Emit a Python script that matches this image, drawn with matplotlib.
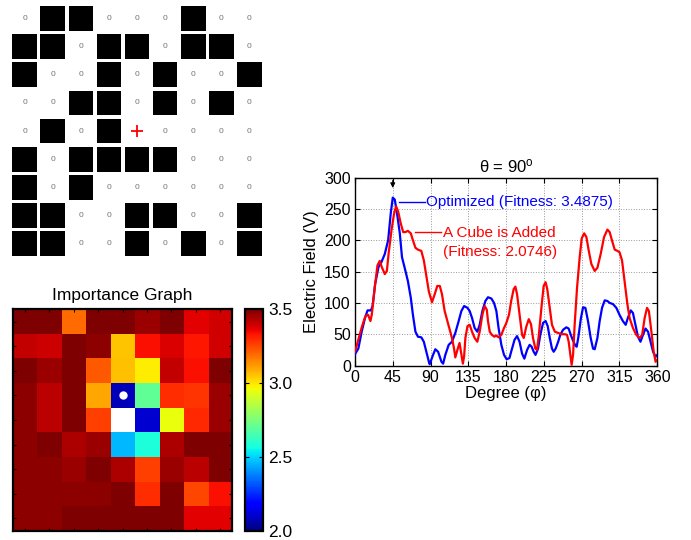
import numpy as np
import matplotlib
matplotlib.use("Agg")
import matplotlib.pyplot as plt
from matplotlib.patches import Rectangle

plt.rcParams['font.family'] = ['Liberation Sans', 'DejaVu Sans']
plt.rcParams['mathtext.fontset'] = 'custom'
plt.rcParams['mathtext.rm'] = 'Liberation Sans'
plt.rcParams['mathtext.it'] = 'Liberation Sans:italic'

# ---------------- data ----------------
# top-left structure grid (1 = cube, 0 = empty); center cell marked with a red "+"
grid_rows = [
    [0, 1, 1, 0, 0, 0, 1, 0, 0],
    [1, 1, 0, 1, 1, 0, 1, 1, 0],
    [1, 0, 0, 1, 0, 1, 0, 0, 1],
    [0, 0, 1, 1, 0, 1, 0, 1, 0],
    [0, 1, 0, 1, 0, 0, 0, 0, 0],
    [1, 0, 1, 1, 1, 1, 0, 0, 0],
    [1, 0, 1, 0, 0, 0, 0, 0, 0],
    [1, 1, 0, 0, 1, 1, 0, 0, 1],
    [1, 1, 0, 0, 1, 0, 1, 0, 1],
]
center_cell = (4, 4)

# importance graph (NaN = white cell)
importance = [
    [3.50, 3.50, 3.19, 3.50, 3.50, 3.46, 3.50, 3.37, 3.39],
    [3.41, 3.40, 3.50, 3.48, 3.05, 3.34, 3.38, 3.33, 3.39],
    [3.50, 3.46, 3.50, 3.22, 3.06, 2.99, 3.41, 3.34, 3.50],
    [3.48, 3.42, 3.50, 3.10, 2.08, 2.70, 3.29, 3.28, 3.46],
    [3.48, 3.42, 3.50, 3.26, np.nan, 2.11, 2.95, 3.30, 3.46],
    [3.48, 3.50, 3.44, 3.46, 2.46, 2.58, 3.44, 3.50, 3.50],
    [3.48, 3.48, 3.46, 3.50, 3.44, 3.26, 3.46, 3.42, 3.50],
    [3.48, 3.48, 3.48, 3.48, 3.50, 3.29, 3.50, 3.25, 3.34],
    [3.48, 3.48, 3.50, 3.50, 3.50, 3.50, 3.50, 3.37, 3.37],
]
dot_cell = (3, 4)
cbar_ticks = [2.0, 2.5, 3.0, 3.5]

# electric field pattern, theta = 90 deg
deg_blue = [0, 4, 8, 12, 15, 19, 21, 24, 28, 31.5,
            35.5, 39.5, 42.6, 45, 47.4, 50.6, 53.4, 56, 59, 63,
            66.5, 69, 72, 75, 79, 82, 85, 88, 89, 93,
            95.7, 99, 103, 105, 107.6, 111.6, 115.5, 119.5, 123.5, 126.7,
            130, 134, 136.6, 139.4, 142.5, 145.7, 148.5, 151.7, 155.3, 158.4,
            162.4, 165.6, 168.4, 171, 174.3, 177.5, 180.6, 184, 186, 190,
            193, 196, 199, 201.7, 205, 208, 210.4, 212.8, 215, 218,
            220.7, 224, 227, 229.5, 232, 234.6, 236.6, 239, 242, 244.5,
            247.8, 251.7, 254.5, 257, 259, 262, 264, 266, 269, 271.6,
            274.4, 277.5, 280.7, 283.5, 285.5, 288.7, 291.4, 294.2, 297.4, 300.6,
            303.3, 307.3, 311.3, 315, 319, 322.4, 325, 328.4, 331, 334,
            337, 340, 343, 346, 349, 352, 355, 358, 360]
val_blue = [18, 27, 54, 76, 88, 88, 95, 130, 157, 165,
            178, 200, 243, 268, 265, 238, 211, 173, 157, 135,
            108, 81, 54, 46, 45, 38, 22, 6, 2, 17,
            26, 22, 6, 3, 17, 33, 38, 52, 71, 87,
            95, 92, 87, 76, 60, 54, 65, 87, 103, 109,
            107, 100, 87, 60, 33, 17, 10, 12, 22, 41,
            47, 38, 19, 11, 25, 33, 30, 22, 17, 27,
            49, 68, 71, 63, 44, 27, 22, 27, 38, 49,
            57, 61, 59, 49, 42, 33, 30, 45, 75, 93,
            92, 71, 44, 27, 26, 44, 71, 92, 104, 103,
            100, 98, 92, 81, 71, 65, 76, 88, 84, 65,
            46, 38, 49, 59, 54, 38, 22, 14, 17]

deg_red = [0, 4.5, 8.5, 12.5, 15.6, 18.4, 20, 23.6, 26.8, 29.5,
           32, 35.5, 38, 40, 43.5, 46.6, 49, 51.4, 54.5, 57.4,
           60, 63, 66.5, 69, 72, 75, 79, 82, 85, 88,
           91.7, 95, 98, 101, 103.6, 106.8, 110, 112.8, 115.5, 118,
           119.5, 122, 124.5, 126.5, 128.5, 130, 131.5, 134, 136.6, 139.4,
           142.5, 145.7, 148.5, 151.7, 154.5, 157, 158.4, 160.5, 163, 166,
           168, 171, 174.3, 177.5, 180, 183.4, 186, 189, 191, 193,
           196, 199, 201, 204, 207, 209.6, 212, 214.8, 216.8, 219,
           222, 224.7, 227, 229, 232, 234.6, 238, 242, 246, 250,
           252.5, 254.5, 256.5, 258, 259.7, 261.6, 264.5, 267.6, 270, 273,
           275.6, 278.3, 281.5, 285.5, 288.7, 292.6, 296.6, 300.6, 303.3, 306,
           309.3, 312.5, 315, 318, 321, 324.4, 327, 331, 335, 339,
           342, 345, 347.8, 350, 353, 355.7, 358, 360]
val_red = [22, 44, 63, 79, 81, 71, 81, 125, 160, 167,
           157, 146, 151, 178, 216, 243, 254, 246, 227, 213,
           213, 215, 211, 200, 188, 185, 183, 168, 143, 118,
           101, 114, 127, 127, 114, 87, 71, 57, 44, 27,
           13, 25, 36, 20, 3, 15, 44, 63, 65, 54,
           44, 38, 54, 81, 95, 89, 71, 54, 49, 46,
           48, 45, 49, 60, 67, 81, 103, 122, 126, 114,
           81, 49, 44, 62, 74, 66, 44, 27, 25, 49,
           92, 127, 133, 122, 92, 65, 54, 52, 50, 50,
           49, 38, 17, 1, 17, 65, 125, 173, 203, 211,
           205, 184, 162, 151, 156, 178, 205, 217, 213, 200,
           185, 183, 181, 168, 135, 98, 76, 60, 49, 44,
           49, 76, 92, 87, 54, 22, 6, 9]

x_ticks = [0, 45, 90, 135, 180, 225, 270, 315, 360]
y_ticks = [0, 50, 100, 150, 200, 250, 300]
label_blue = "Optimized (Fitness: 3.4875)"
label_red_1 = "A Cube is Added"
label_red_2 = "(Fitness: 2.0746)"

# ---------------- figure ----------------
fig = plt.figure(figsize=(6.91, 5.40), dpi=100)

# --- structure grid ---
axg = fig.add_axes([0.0155, 0.523, 0.3656, 0.4685])
grid = np.array(grid_rows)
nr, nc = grid.shape
sq = 0.88
for r in range(nr):
    for c in range(nc):
        if (r, c) == center_cell:
            axg.plot(c, r, marker='+', color='red', markersize=8, mew=1.3)
        elif grid[r, c] == 1:
            axg.add_patch(Rectangle((c - sq / 2, r - sq / 2), sq, sq,
                                    facecolor='black', edgecolor='none'))
        else:
            axg.text(c, r, '0', ha='center', va='center', fontsize=6,
                     color='0.45')
axg.set_xlim(-0.5, nc - 0.5)
axg.set_ylim(nr - 0.5, -0.5)
axg.axis('off')

# --- importance graph ---
axh = fig.add_axes([0.0188, 0.0172, 0.317, 0.410])
cmap = plt.get_cmap('jet').copy()
cmap.set_bad('white')
imp = np.ma.masked_invalid(np.array(importance))
im = axh.imshow(imp, cmap=cmap, vmin=2.0, vmax=3.5, aspect='auto',
                interpolation='nearest')
axh.plot(dot_cell[1], dot_cell[0], 'o', color='white', markersize=5,
         markeredgecolor='white')
axh.set_xticks(range(nc))
axh.set_yticks(range(nr))
axh.set_xticklabels([])
axh.set_yticklabels([])
axh.tick_params(direction='in', length=2.5, width=0.8, top=True, right=True)
for s in axh.spines.values():
    s.set_linewidth(1.6)
axh.set_title('Importance Graph', fontsize=12.5, pad=7)

cax = fig.add_axes([0.3546, 0.0172, 0.0265, 0.410])
cb = fig.colorbar(im, cax=cax, ticks=cbar_ticks)
cb.ax.set_yticklabels(['%.1f' % t for t in cbar_ticks], fontsize=12.5)
cb.ax.tick_params(direction='in', length=3, width=0.8, left=True, right=True)
cb.outline.set_linewidth(1.6)

# --- electric field plot ---
ax = fig.add_axes([0.5137, 0.3231, 0.4375, 0.348])
ax.plot(deg_blue, val_blue, color='blue', lw=1.6, zorder=3)
ax.plot(deg_red, val_red, color='red', lw=1.6, zorder=3)
ax.set_xlim(0, 360)
ax.set_ylim(0, 300)
ax.set_xticks(x_ticks)
ax.set_yticks(y_ticks)
ax.tick_params(direction='in', length=3.5, width=0.8, top=True, right=True,
               labelsize=11.5, pad=3)
ax.grid(True, linestyle=':', color='0.6', linewidth=0.7)
ax.set_axisbelow(True)
for s in ax.spines.values():
    s.set_linewidth(1.0)
ax.set_xlabel('Degree (φ)', fontsize=12, labelpad=1)
ax.set_ylabel('Electric Field (V)', fontsize=12, labelpad=4)
ax.set_title('θ = 90$^{\\mathrm{o}}$', fontsize=12, pad=4)

# annotations
ax.plot([52, 83], [261, 261], color='blue', lw=1.0)
ax.text(84, 261, label_blue, color='blue', fontsize=11, ha='left',
        va='center')
ax.plot([72, 103], [213, 213], color='red', lw=1.0)
ax.text(105, 211, label_red_1, color='red', fontsize=11, ha='left',
        va='center')
ax.text(105, 181, label_red_2, color='red', fontsize=11, ha='left',
        va='center')
ax.annotate('', xy=(45, 279), xytext=(45, 300),
            arrowprops=dict(arrowstyle='-|>', color='black', lw=0.8,
                            mutation_scale=7))

fig.savefig('out.png', dpi=100)
